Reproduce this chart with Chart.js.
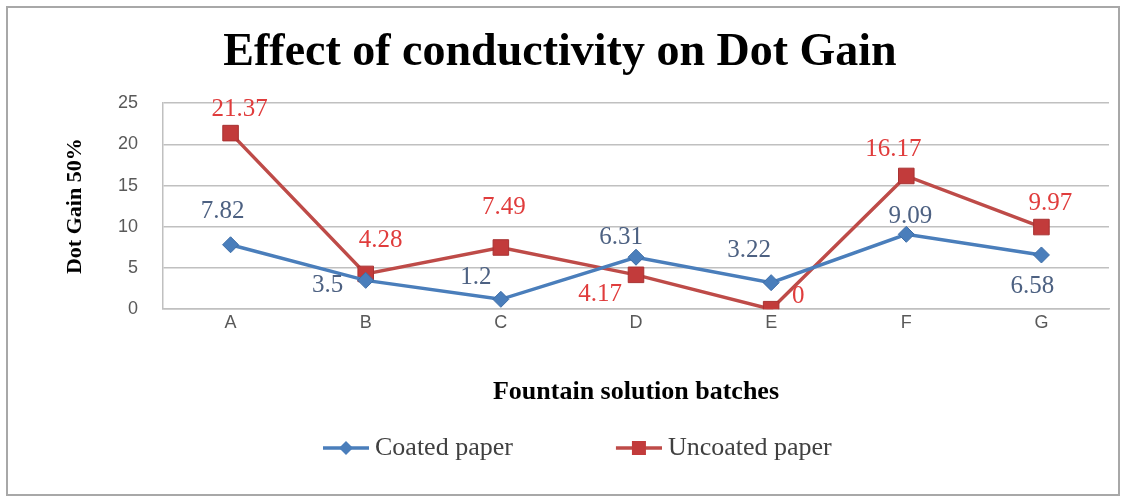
<!DOCTYPE html>
<html>
<head>
<meta charset="utf-8">
<script src="https://cdn.jsdelivr.net/npm/chart.js@4/dist/chart.umd.min.js"></script>
<style>
  html, body { margin: 0; padding: 0; background: #ffffff; }
  #wrap { width: 1121px; height: 497px; }
</style>
</head>
<body>
<div id="wrap"><canvas id="dotGain" width="1121" height="497"></canvas></div>
<script>
// Fountain solution batches on the x axis
const batches = ['A', 'B', 'C', 'D', 'E', 'F', 'G'];
// Dot gain at 50% tone for each paper type
const coatedPaper = [7.82, 3.5, 1.2, 6.31, 3.22, 9.09, 6.58];
const uncoatedPaper = [21.37, 4.28, 7.49, 4.17, 0, 16.17, 9.97];
// Value axis ticks
const yTicks = [0, 5, 10, 15, 20, 25];

// Where each value label sits relative to its point (dx, dy in px)
const coatedLabelOffsets = [[-8, -33], [-38, 5], [-25, -22], [-15, -20], [-22, -32], [4, -18], [-9, 31]];
const uncoatedLabelOffsets = [[9, -24], [15, -33], [3, -40], [-36, 20], [27, -13], [-13, -27], [9, -24]];

const BLUE = '#4a7ebb';
const RED = '#be4b48';
const RED_MARK = '#c23b3b';
const BLUE_TEXT = '#4d6182';
const RED_TEXT = '#e03c3c';
const GRID = '#c0c0c0';
const SERIF = '"Liberation Serif", "Times New Roman", serif';
const SANS = '"Liberation Sans", Arial, sans-serif';

// Legend swatch: a short line with the series marker on it, right-aligned in the image
const SWATCH_BOX = 132;
const SWATCH_W = SWATCH_BOX + 14;
function makeSwatch(color, markColor, shape) {
  const c = document.createElement('canvas');
  c.width = SWATCH_W; c.height = 26;
  const g = c.getContext('2d');
  const x0 = SWATCH_W - 46, cx = SWATCH_W - 23, cy = 13;
  g.strokeStyle = color; g.lineWidth = 3.5;
  g.beginPath(); g.moveTo(x0, cy); g.lineTo(SWATCH_W, cy); g.stroke();
  g.fillStyle = markColor;
  g.beginPath();
  if (shape === 'diamond') {
    g.moveTo(cx, cy - 7); g.lineTo(cx + 7, cy); g.lineTo(cx, cy + 7); g.lineTo(cx - 7, cy); g.closePath();
  } else {
    g.rect(cx - 7, cy - 7, 14, 14);
  }
  g.fill();
  return c;
}
const swatches = [makeSwatch(BLUE, BLUE, 'diamond'), makeSwatch(RED, RED_MARK, 'square')];

// White sheet with a grey frame behind everything
const framePlugin = {
  id: 'frame',
  beforeDraw(chart) {
    const ctx = chart.ctx;
    ctx.save();
    ctx.fillStyle = '#ffffff';
    ctx.fillRect(0, 0, chart.width, chart.height);
    ctx.strokeStyle = '#a8a8a8';
    ctx.lineWidth = 2;
    ctx.strokeRect(7, 7, chart.width - 9, chart.height - 9);
    ctx.restore();
  }
};

// Places the legend row under the x-axis title
const legendPlacement = {
  id: 'legendPlacement',
  afterLayout(chart) {
    const lg = chart.legend;
    if (lg) {
      const w = lg.right - lg.left;
      lg.left = 220;
      lg.right = lg.left + w;
    }
  }
};

// Value labels next to each point
const valueLabels = {
  id: 'valueLabels',
  afterDatasetsDraw(chart) {
    const ctx = chart.ctx;
    const offsets = [coatedLabelOffsets, uncoatedLabelOffsets];
    const colors = [BLUE_TEXT, RED_TEXT];
    chart.data.datasets.forEach((ds, di) => {
      const meta = chart.getDatasetMeta(di);
      ctx.save();
      ctx.font = '25px ' + SERIF;
      ctx.fillStyle = colors[di];
      ctx.textAlign = 'center';
      ctx.textBaseline = 'middle';
      meta.data.forEach((pt, i) => {
        const o = offsets[di][i];
        ctx.fillText(String(ds.data[i]), pt.x + o[0], pt.y + o[1]);
      });
      ctx.restore();
    });
  }
};

new Chart(document.getElementById('dotGain'), {
  type: 'line',
  data: {
    labels: batches,
    datasets: [
      {
        label: 'Coated paper',
        data: coatedPaper,
        borderColor: BLUE,
        backgroundColor: BLUE,
        borderWidth: 3.5,
        pointStyle: 'rectRot',
        pointRadius: 8,
        pointBorderWidth: 1,
        pointBackgroundColor: BLUE,
        pointBorderColor: '#3e6ea8',
        tension: 0
      },
      {
        label: 'Uncoated paper',
        data: uncoatedPaper,
        borderColor: RED,
        backgroundColor: RED_MARK,
        borderWidth: 3.5,
        pointStyle: 'rect',
        pointRadius: 11,
        pointBorderWidth: 1,
        pointBackgroundColor: RED_MARK,
        pointBorderColor: '#a83232',
        tension: 0
      }
    ]
  },
  options: {
    responsive: false,
    animation: false,
    events: [],
    layout: { padding: { left: 10, right: 11, top: 0, bottom: 26 } },
    plugins: {
      title: {
        display: true,
        text: 'Effect of conductivity on Dot Gain',
        color: '#000000',
        font: { family: SERIF, size: 46, weight: 'bold' },
        padding: { top: 26, bottom: 22 }
      },
      legend: {
        display: true,
        position: 'bottom',
        align: 'start',
        labels: {
          usePointStyle: true,
          pointStyleWidth: SWATCH_BOX,
          padding: 10,
          color: '#404040',
          font: { family: SERIF, size: 26 },
          generateLabels(chart) {
            return chart.data.datasets.map((ds, i) => ({
              text: ds.label,
              pointStyle: swatches[i],
              fillStyle: 'rgba(0,0,0,0)',
              strokeStyle: 'rgba(0,0,0,0)',
              lineWidth: 0,
              fontColor: '#404040',
              hidden: false,
              datasetIndex: i
            }));
          }
        }
      },
      tooltip: { enabled: false }
    },
    scales: {
      x: {
        offset: true,
        grid: { display: false, drawTicks: false, offset: true },
        border: { display: true, color: GRID, width: 1.5 },
        ticks: {
          padding: 3,
          color: '#595959',
          font: { family: SANS, size: 18 }
        },
        title: {
          display: true,
          text: 'Fountain solution batches',
          color: '#000000',
          font: { family: SERIF, size: 26, weight: 'bold' },
          padding: { top: 40, bottom: 17 }
        }
      },
      y: {
        min: 0,
        max: 25,
        afterBuildTicks(scale) { scale.ticks = yTicks.map(v => ({ value: v })); },
        afterFit(scale) { scale.width = 153; },
        grid: { color: GRID, lineWidth: 1.5, drawTicks: false },
        border: { display: true, color: GRID, width: 1.5 },
        ticks: {
          padding: 25,
          color: '#595959',
          font: { family: SANS, size: 18 }
        },
        title: {
          display: true,
          text: 'Dot Gain 50%',
          color: '#000000',
          font: { family: SERIF, size: 22, weight: 'bold' },
          padding: { top: 52, bottom: 0 }
        }
      }
    }
  },
  plugins: [framePlugin, legendPlacement, valueLabels]
});
</script>
</body>
</html>
